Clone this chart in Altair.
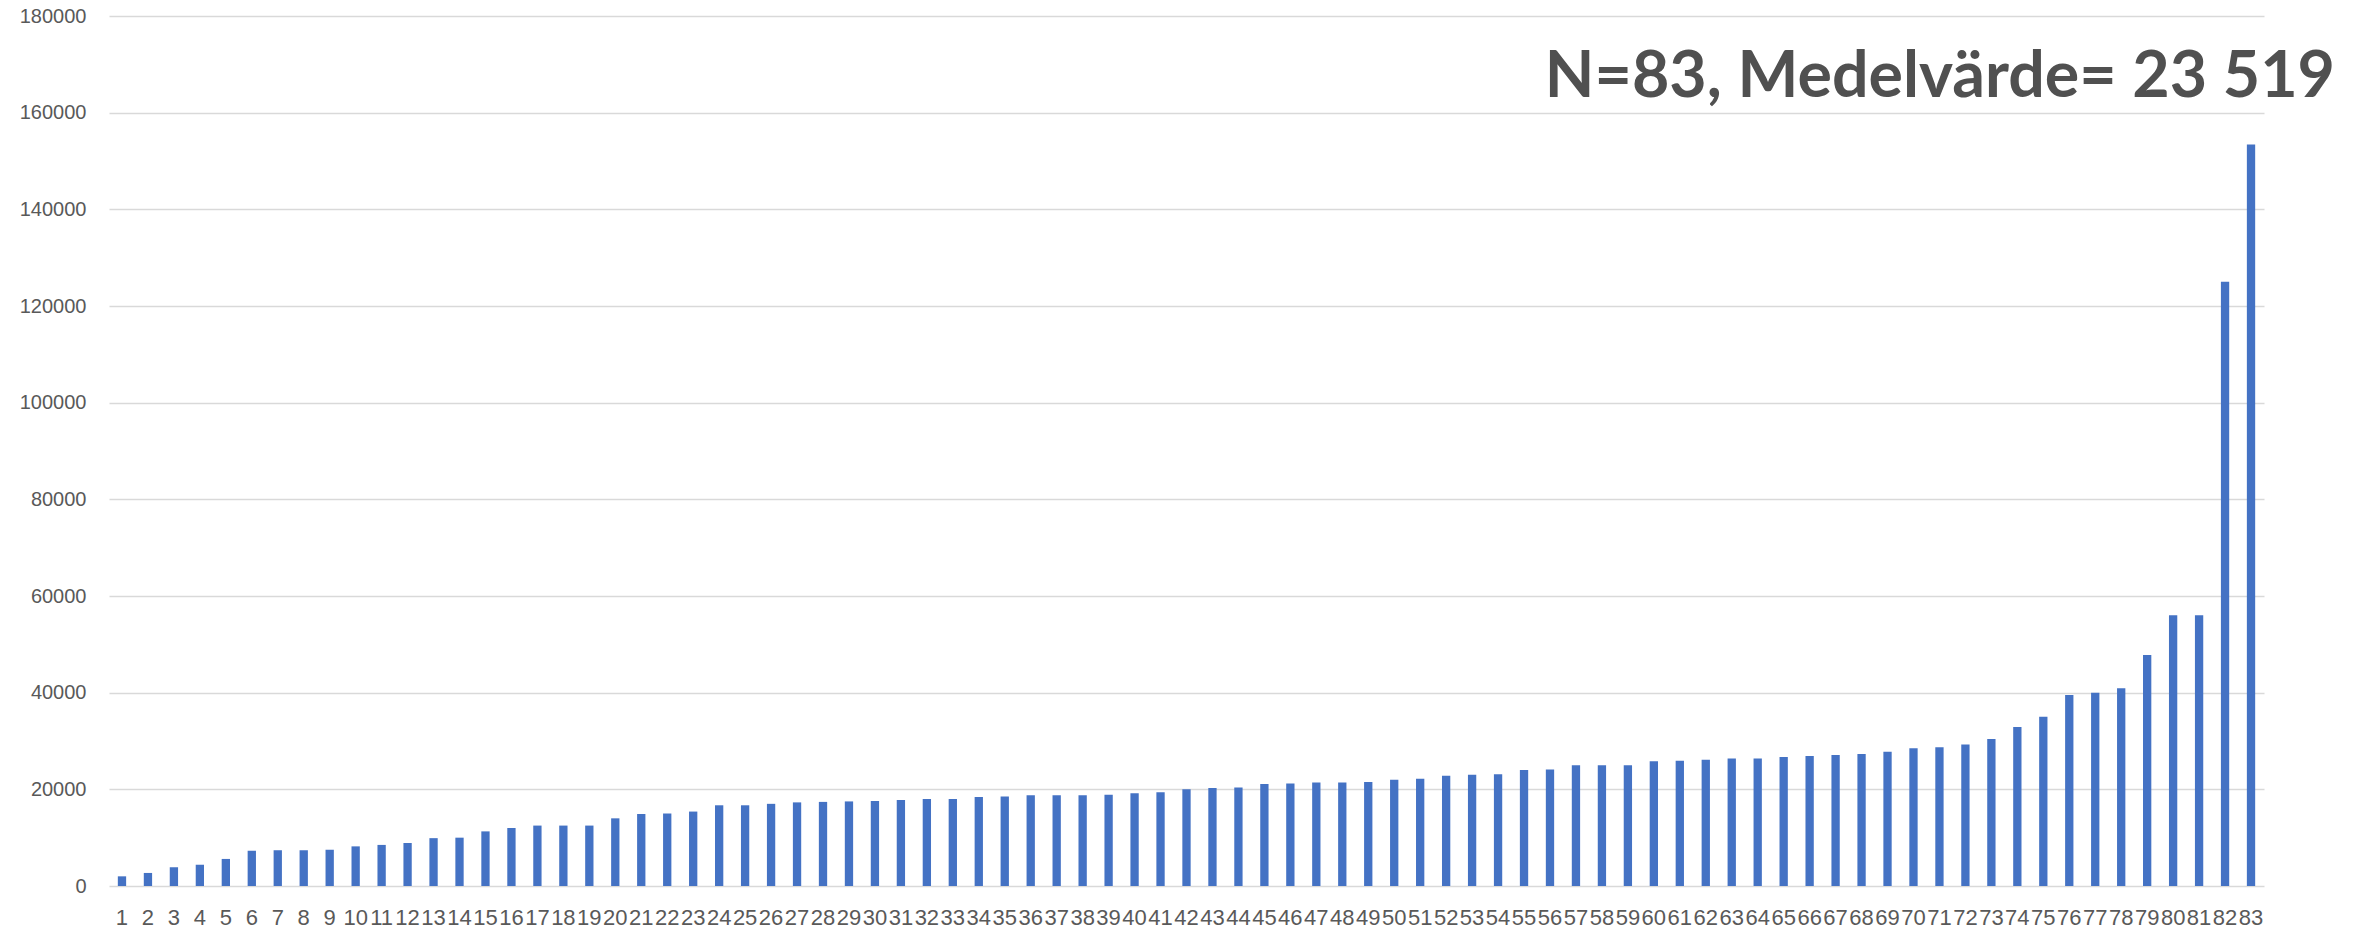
import altair as alt
import pandas as pd

# Sorted individual values (1..83)
ranks = list(range(1, 84))
values = [
    2000, 2700, 3900, 4400, 5600, 7300, 7400, 7400, 7500, 8200,
    8500, 8900, 9900, 10000, 11300, 12000, 12500, 12500, 12500, 14000,
    14900, 15000, 15400, 16700, 16700, 17000, 17300, 17400, 17500, 17600,
    17800, 18000, 18000, 18400, 18500, 18800, 18800, 18800, 18900, 19200,
    19400, 20000, 20300, 20400, 21100, 21200, 21400, 21400, 21500, 22000,
    22200, 22800, 23000, 23100, 24000, 24100, 25000, 25000, 25000, 25800,
    25900, 26100, 26400, 26400, 26700, 26900, 27100, 27300, 27800, 28500,
    28700, 29300, 30400, 32900, 35000, 39500, 40000, 40900, 47800, 56000,
    56000, 125000, 153400,
]
y_ticks = list(range(0, 180001, 20000))
headline = "N=83, Medelvärde= 23 519"

df = pd.DataFrame({"n": ranks, "v": values})

W, H = 2155, 870

bars = alt.Chart(df).mark_bar(color="#4472C4").encode(
    x=alt.X(
        "n:O",
        sort=None,
        title=None,
        scale=alt.Scale(paddingInner=0.68, paddingOuter=0.34),
        axis=alt.Axis(
            labelAngle=0,
            labelOverlap=False,
            labelBound=False,
            labelFont="Liberation Sans",
            labelFontSize=22,
            labelColor="#595959",
            labelPadding=21,
            ticks=False,
            domain=False,
            grid=False,
        ),
    ),
    y=alt.Y(
        "v:Q",
        title=None,
        scale=alt.Scale(domain=[0, 180000], nice=False, zero=True),
        axis=alt.Axis(
            values=y_ticks,
            format="d",
            labelFont="Liberation Sans",
            labelFontSize=20,
            labelColor="#595959",
            labelPadding=23,
            ticks=False,
            domain=False,
            grid=True,
            gridColor="#D9D9D9",
            gridWidth=1.4,
        ),
    ),
)

label = alt.Chart(pd.DataFrame({"t": [headline]})).mark_text(
    align="right",
    baseline="alphabetic",
    font="Lato",
    fontWeight="bold",
    fontSize=64.5,
    color="#505050",
).encode(
    x=alt.value(W + 71),
    y=alt.value(81),
    text="t:N",
)

chart = (
    alt.layer(bars, label)
    .properties(
        width=W,
        height=H,
        autosize=alt.AutoSizeParams(type="none"),
        padding={"left": 109, "top": 16, "right": 102, "bottom": 42},
        background="white",
    )
    .configure_view(stroke=None)
)

chart.save("out.html", embed_options={"renderer": "svg", "actions": False})
